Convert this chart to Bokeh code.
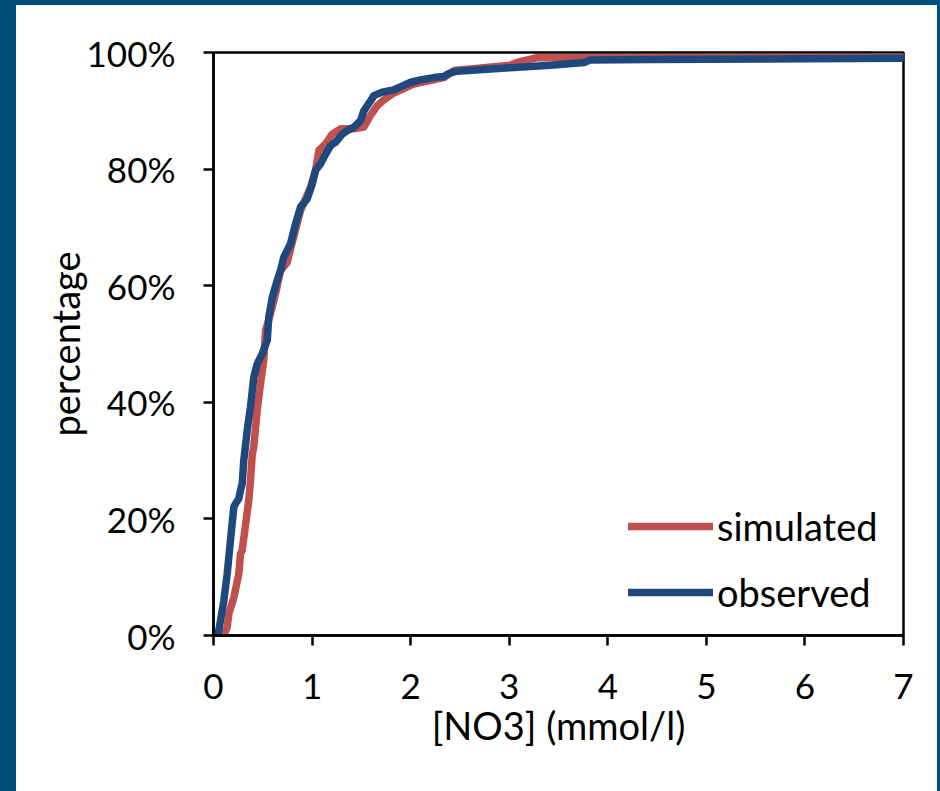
from bokeh.plotting import figure
from bokeh.models import (Range1d, FixedTicker, PrintfTickFormatter, Legend, LegendItem, Div)
from bokeh.layouts import row, column
from bokeh.embed import file_html
from bokeh.resources import INLINE

# ---- data ----
sim_x = [0.105, 0.139, 0.155, 0.206, 0.257, 0.274, 0.291, 0.325, 0.358, 0.375, 0.393, 0.409,
         0.443, 0.477, 0.51, 0.528, 0.578, 0.629, 0.68, 0.748, 0.80, 0.883, 0.984, 1.035,
         1.069, 1.136, 1.204, 1.288, 1.424, 1.525, 1.593, 1.661, 1.745, 1.813, 1.931, 2.03,
         2.336, 2.44, 3.01, 3.08, 3.28, 4.43, 7.0]
sim_p = [0, 1.4, 3.7, 6.5, 10.6, 14.0, 14.6, 19.0, 23.2, 26.5, 31.0, 32.5,
         38.6, 43.2, 47.2, 52.3, 55.2, 58.6, 62.6, 64.0, 67.5, 72.9, 76.9, 79.8,
         83.2, 84.3, 86.0, 86.9, 86.9, 87.2, 89.2, 90.9, 92.1, 92.9, 93.8, 94.6,
         95.7, 96.9, 97.8, 98.3, 99.1, 99.1, 99.2]

obs_x = [0.04, 0.054, 0.105, 0.139, 0.172, 0.206, 0.223, 0.257, 0.274, 0.291, 0.307, 0.342,
         0.375, 0.409, 0.443, 0.494, 0.545, 0.561, 0.596, 0.646, 0.68, 0.713, 0.781, 0.832,
         0.883, 0.951, 1.001, 1.035, 1.086, 1.119, 1.187, 1.238, 1.306, 1.356, 1.424, 1.491,
         1.525, 1.593, 1.627, 1.711, 1.829, 1.897, 2.0, 2.10, 2.235, 2.336, 2.387, 2.47,
         3.01, 3.42, 3.76, 3.82, 4.43, 7.0]
obs_p = [0, 0.9, 6.0, 10.6, 16.3, 22.0, 22.6, 23.5, 24.9, 26.0, 30.0, 35.2,
         39.2, 44.3, 46.6, 48.3, 50.6, 54.6, 58.0, 60.9, 62.6, 64.9, 67.2, 70.6,
         73.5, 74.9, 77.4, 79.8, 80.9, 82.0, 84.0, 84.6, 86.0, 86.6, 87.2, 88.3,
         90.0, 91.7, 92.6, 93.2, 93.6, 94.1, 94.9, 95.3, 95.7, 95.9, 96.4, 96.8,
         97.4, 97.8, 98.3, 98.7, 98.8, 99.0]

x_ticks = [0, 1, 2, 3, 4, 5, 6, 7]
y_ticks = [0, 20, 40, 60, 80, 100]
series_names = ["simulated", "observed"]
x_title = "[NO3] (mmol/l)"
y_title = "percentage"

RED = "#C0504D"
BLUE = "#1F497D"
FRAME = "#004F7B"
FONT = "Lato"
FS_TICK = "35px"
FS_TEXT = "38px"

BL, BT, BR = 16, 5, 3
p = figure(width=940 - BL - BR, height=791 - BT, output_backend="svg", toolbar_location=None,
           x_range=Range1d(0, 7), y_range=Range1d(0, 100),
           min_border_left=213 - BL, min_border_right=37 - BR,
           min_border_top=52 - BT, min_border_bottom=156, margin=0)
p.background_fill_color = "white"
p.border_fill_color = "white"
p.grid.visible = False
p.outline_line_color = "black"
p.outline_line_width = 2.5
p.outline_line_alpha = 1

for ax, ticks in ((p.xaxis[0], x_ticks), (p.yaxis[0], y_ticks)):
    ax.ticker = FixedTicker(ticks=ticks)
    ax.axis_line_color = "black"
    ax.axis_line_width = 2.5
    ax.major_tick_line_color = "black"
    ax.major_tick_line_width = 2.5
    ax.major_tick_in = 0
    ax.major_tick_out = 10
    ax.minor_tick_line_color = None
    ax.major_label_text_font = FONT
    ax.major_label_text_font_size = FS_TICK
    ax.major_label_text_color = "black"
    ax.axis_label_text_font = FONT
    ax.axis_label_text_font_size = FS_TEXT
    ax.axis_label_text_font_style = "normal"
    ax.axis_label_text_color = "black"
p.yaxis[0].formatter = PrintfTickFormatter(format="%d%%")
p.yaxis[0].major_label_standoff = 28
p.xaxis[0].major_label_standoff = 28
p.xaxis[0].axis_label = x_title
p.yaxis[0].axis_label = y_title
p.xaxis[0].axis_label_standoff = 0
p.yaxis[0].axis_label_standoff = -4

r_sim = p.line(sim_x, sim_p, line_color=RED, line_width=7.5, line_join="round", line_cap="round")
r_obs = p.line(obs_x, obs_p, line_color=BLUE, line_width=7.5, line_join="round", line_cap="round")

legend = Legend(items=[LegendItem(label=series_names[0], renderers=[r_sim]),
                       LegendItem(label=series_names[1], renderers=[r_obs])],
                location=(415, 20), orientation="vertical",
                glyph_width=85, glyph_height=40, label_height=40, spacing=20,
                label_standoff=4, padding=0, margin=0,
                border_line_color=None, background_fill_alpha=0,
                label_text_font=FONT, label_text_font_size=FS_TEXT, label_text_color="black")
p.add_layout(legend, "center")

# dark blue frame around the picture, built from plain blocks
left_bar = Div(text="", width=BL, height=791, margin=0, styles={"background-color": FRAME})
top_bar = Div(text="", width=940 - BL - BR, height=BT, margin=0, styles={"background-color": FRAME})
right_bar = Div(text="", width=BR, height=791, margin=0, styles={"background-color": FRAME})
page = row(left_bar, column(top_bar, p, spacing=0), right_bar, spacing=0)

open("out.html", "w").write(file_html(page, INLINE))
